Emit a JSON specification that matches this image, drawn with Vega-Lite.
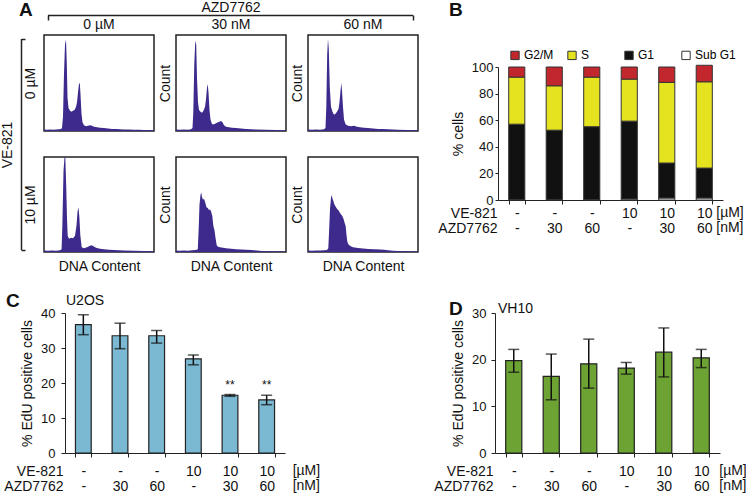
{
"$schema":"https://vega.github.io/schema/vega-lite/v6.json",
"background":"white",
"padding":0,
"config":{
  "font":"Liberation Sans",
  "view":{"stroke":null},
  "axis":{"grid":false,"domainColor":"#222","tickColor":"#222","labelColor":"#111","titleColor":"#111","titleFontWeight":"normal","labelOverlap":false},
  "title":{"color":"#111","frame":"group"},
  "text":{"color":"#111"}
},
"datasets":{
"h11":[{"x":0,"y":1.5},{"x":3,"y":1.2},{"x":6,"y":1.6},{"x":9,"y":1.3},{"x":12,"y":1.5},{"x":15,"y":1.8},{"x":17,"y":2},{"x":18,"y":3},{"x":19,"y":15},{"x":20,"y":60},{"x":21,"y":90},{"x":22,"y":95},{"x":22.8,"y":70},{"x":23.5,"y":35},{"x":24.5,"y":24},{"x":26,"y":21},{"x":27.5,"y":20},{"x":29,"y":21},{"x":30.5,"y":22},{"x":32,"y":25},{"x":33,"y":30},{"x":34,"y":40},{"x":35,"y":49},{"x":35.8,"y":50},{"x":36.5,"y":38},{"x":37.5,"y":18},{"x":38.5,"y":9},{"x":40,"y":6},{"x":42,"y":5},{"x":44,"y":5.5},{"x":46,"y":6},{"x":48,"y":5.5},{"x":50,"y":4.5},{"x":53,"y":4},{"x":56,"y":3.5},{"x":60,"y":3},{"x":64,"y":2.5},{"x":68,"y":2.2},{"x":72,"y":2},{"x":76,"y":1.8},{"x":80,"y":1.6},{"x":85,"y":1.5},{"x":90,"y":1.3},{"x":95,"y":1.2},{"x":100,"y":1},{"x":105,"y":1},{"x":110,"y":0.8}],
"h12":[{"x":0,"y":1.5},{"x":4,"y":1.2},{"x":8,"y":1.5},{"x":12,"y":1.3},{"x":15,"y":1.8},{"x":16.5,"y":3},{"x":17.3,"y":20},{"x":18.3,"y":70},{"x":19.3,"y":94},{"x":20.2,"y":90},{"x":21,"y":55},{"x":22,"y":30},{"x":23,"y":22},{"x":24.5,"y":20},{"x":26,"y":19},{"x":27.5,"y":21},{"x":29,"y":25},{"x":30,"y":33},{"x":31,"y":45},{"x":31.7,"y":49},{"x":32.5,"y":40},{"x":33.5,"y":22},{"x":34.5,"y":12},{"x":36,"y":7},{"x":38,"y":7},{"x":40,"y":8},{"x":42,"y":9},{"x":44,"y":10},{"x":45,"y":10.5},{"x":46.5,"y":9},{"x":48,"y":6},{"x":50,"y":4.5},{"x":53,"y":4},{"x":56,"y":3.5},{"x":60,"y":3},{"x":65,"y":2.5},{"x":70,"y":2},{"x":75,"y":1.8},{"x":80,"y":1.5},{"x":90,"y":1.2},{"x":100,"y":1},{"x":110,"y":0.8}],
"h13":[{"x":0,"y":1.5},{"x":4,"y":1.3},{"x":8,"y":1.5},{"x":12,"y":1.4},{"x":16,"y":1.8},{"x":17.5,"y":3},{"x":18.3,"y":25},{"x":19.2,"y":80},{"x":20,"y":96},{"x":20.8,"y":85},{"x":21.8,"y":45},{"x":23,"y":25},{"x":24.5,"y":20},{"x":26,"y":17},{"x":27.5,"y":18},{"x":29,"y":20},{"x":30.5,"y":23},{"x":31.5,"y":30},{"x":32.5,"y":42},{"x":33.3,"y":50},{"x":34,"y":42},{"x":35,"y":25},{"x":36,"y":12},{"x":37.5,"y":7},{"x":40,"y":5.5},{"x":43,"y":5},{"x":46,"y":5.5},{"x":49,"y":4.5},{"x":52,"y":4},{"x":56,"y":3.5},{"x":60,"y":3},{"x":65,"y":2.5},{"x":70,"y":2.2},{"x":75,"y":2},{"x":80,"y":1.7},{"x":90,"y":1.3},{"x":100,"y":1.1},{"x":110,"y":0.9}],
"h21":[{"x":0,"y":1.5},{"x":4,"y":1.2},{"x":8,"y":1.6},{"x":12,"y":1.3},{"x":16,"y":1.8},{"x":17.6,"y":3},{"x":18.4,"y":30},{"x":19.5,"y":85},{"x":20.5,"y":100},{"x":21.3,"y":100},{"x":22.2,"y":70},{"x":23,"y":35},{"x":23.7,"y":17},{"x":25,"y":14},{"x":27,"y":15},{"x":29,"y":14.5},{"x":31,"y":17},{"x":32.5,"y":28},{"x":33.5,"y":42},{"x":34.4,"y":47},{"x":35.3,"y":38},{"x":36.3,"y":18},{"x":37.7,"y":5},{"x":40,"y":4},{"x":43,"y":5},{"x":46,"y":6.5},{"x":47.7,"y":7},{"x":49.5,"y":6},{"x":52,"y":4.5},{"x":56,"y":3.5},{"x":60,"y":3},{"x":65,"y":2.5},{"x":70,"y":2},{"x":75,"y":1.8},{"x":80,"y":1.6},{"x":90,"y":1.3},{"x":100,"y":1.1},{"x":110,"y":0.9}],
"h22":[{"x":0,"y":1.5},{"x":4,"y":1.3},{"x":8,"y":1.6},{"x":12,"y":1.4},{"x":16,"y":1.8},{"x":20,"y":2},{"x":21.8,"y":3},{"x":22.7,"y":25},{"x":23.5,"y":50},{"x":24.5,"y":60},{"x":25.2,"y":63},{"x":26,"y":58},{"x":27,"y":55},{"x":28,"y":56},{"x":29,"y":53},{"x":30.5,"y":47},{"x":32,"y":46},{"x":33,"y":44},{"x":34,"y":45},{"x":35,"y":43},{"x":36.3,"y":38},{"x":37.4,"y":27},{"x":38.5,"y":23},{"x":39.5,"y":15},{"x":40.7,"y":7},{"x":42,"y":5.5},{"x":44,"y":5},{"x":47,"y":4.5},{"x":50,"y":4},{"x":55,"y":3.5},{"x":60,"y":3},{"x":65,"y":2.7},{"x":70,"y":2.3},{"x":76,"y":2},{"x":81,"y":1.5},{"x":86,"y":1},{"x":95,"y":0.8},{"x":110,"y":0.6}],
"h23":[{"x":0,"y":1.5},{"x":4,"y":1.3},{"x":8,"y":1.6},{"x":12,"y":1.5},{"x":16,"y":1.8},{"x":19,"y":2},{"x":20.3,"y":4},{"x":21,"y":20},{"x":22,"y":45},{"x":23,"y":57},{"x":23.7,"y":60},{"x":24.5,"y":56},{"x":25.3,"y":54},{"x":26,"y":51},{"x":27,"y":49},{"x":28,"y":47},{"x":29.3,"y":45},{"x":30.5,"y":44},{"x":32,"y":41},{"x":33.5,"y":39},{"x":34.3,"y":38},{"x":35.5,"y":35},{"x":36.5,"y":31},{"x":37.7,"y":27},{"x":38.5,"y":18},{"x":39.3,"y":11},{"x":40.5,"y":8},{"x":42.7,"y":6},{"x":45,"y":5},{"x":50,"y":4.2},{"x":55,"y":3.6},{"x":60,"y":3.2},{"x":66,"y":3},{"x":72,"y":2.6},{"x":76,"y":2.5},{"x":80,"y":1.8},{"x":85,"y":1.2},{"x":90,"y":1},{"x":100,"y":0.8},{"x":110,"y":0.6}],
"cycle":[
{"cond":"-|-","phase":"Sub G1","ord":1,"pct":0.4},{"cond":"-|-","phase":"G1","ord":2,"pct":56.6},{"cond":"-|-","phase":"S","ord":3,"pct":35.4},{"cond":"-|-","phase":"G2/M","ord":4,"pct":7.6},
{"cond":"-|30","phase":"Sub G1","ord":1,"pct":0.4},{"cond":"-|30","phase":"G1","ord":2,"pct":52.1},{"cond":"-|30","phase":"S","ord":3,"pct":33.4},{"cond":"-|30","phase":"G2/M","ord":4,"pct":14.1},
{"cond":"-|60","phase":"Sub G1","ord":1,"pct":0.4},{"cond":"-|60","phase":"G1","ord":2,"pct":54.7},{"cond":"-|60","phase":"S","ord":3,"pct":37.3},{"cond":"-|60","phase":"G2/M","ord":4,"pct":7.6},
{"cond":"10|-","phase":"Sub G1","ord":1,"pct":0.8},{"cond":"10|-","phase":"G1","ord":2,"pct":58.5},{"cond":"10|-","phase":"S","ord":3,"pct":31.6},{"cond":"10|-","phase":"G2/M","ord":4,"pct":9.1},
{"cond":"10|30","phase":"Sub G1","ord":1,"pct":1.5},{"cond":"10|30","phase":"G1","ord":2,"pct":26.3},{"cond":"10|30","phase":"S","ord":3,"pct":60.6},{"cond":"10|30","phase":"G2/M","ord":4,"pct":11.6},
{"cond":"10|60","phase":"Sub G1","ord":1,"pct":1.5},{"cond":"10|60","phase":"G1","ord":2,"pct":22.5},{"cond":"10|60","phase":"S","ord":3,"pct":64.9},{"cond":"10|60","phase":"G2/M","ord":4,"pct":12.4}
],
"u2os":[
{"cond":"-|-","v":36.7,"lo":33.8,"hi":39.5,"sig":""},
{"cond":"-|30","v":33.5,"lo":29.8,"hi":37.1,"sig":""},
{"cond":"-|60","v":33.5,"lo":31.4,"hi":35.0,"sig":""},
{"cond":"10|-","v":26.9,"lo":25.2,"hi":28.0,"sig":""},
{"cond":"10|30","v":16.5,"lo":16.2,"hi":16.7,"sig":"**"},
{"cond":"10|60","v":15.2,"lo":13.8,"hi":16.5,"sig":"**"}
],
"vh10":[
{"cond":"-|-","v":19.8,"lo":17.3,"hi":22.2},
{"cond":"-|30","v":16.4,"lo":11.4,"hi":21.2},
{"cond":"-|60","v":19.1,"lo":13.9,"hi":24.4},
{"cond":"10|-","v":18.2,"lo":16.9,"hi":19.4},
{"cond":"10|30","v":21.6,"lo":16.3,"hi":26.8},
{"cond":"10|60","v":20.4,"lo":18.3,"hi":22.2}
]
},
"bounds":"flush",
"spacing":298,
"vconcat":[
{"bounds":"flush","spacing":477,"hconcat":[
  {"bounds":"flush","spacing":19,"vconcat":[
    {"width":397,"height":1,
     "data":{"values":[{"lo":0,"hi":1}]},
     "mark":{"type":"rule","color":"#222","strokeWidth":1.5},
     "encoding":{
       "x":{"field":"lo","type":"quantitative","scale":{"domain":[0,1],"range":[27,392],"nice":false},"axis":{"orient":"top","values":[0,1],"labels":false,"domain":false,"tickSize":-5,"tickWidth":1.5,"title":"AZD7762","titleFontSize":14,"titlePadding":0}},
       "x2":{"field":"hi"}
     }},
    {"bounds":"flush","spacing":22,"hconcat":[
      {"width":1,"height":215,
       "title":{"text":"A","anchor":"start","fontSize":19,"fontWeight":"bold","offset":15,"dx":-2},
       "data":{"values":[{"lo":0,"hi":1}]},
       "mark":{"type":"rule","color":"#222","strokeWidth":1.5},
       "encoding":{
         "y":{"field":"lo","type":"quantitative","scale":{"domain":[0,1],"range":[215,4],"nice":false},"axis":{"title":"VE-821","values":[0,1],"labels":false,"domain":false,"tickSize":-4,"tickWidth":1.5,"titlePadding":6,"titleFontSize":14}},
         "y2":{"field":"hi"}
       }},
      {"bounds":"flush","spacing":122,"vconcat":[
        {"bounds":"flush","spacing":22,"hconcat":[
          {"width":110,"height":96,"view":{"stroke":"#222","strokeWidth":1.5},
           "title":{"text":"0 µM","fontSize":14,"fontWeight":"normal","offset":3},
           "data":{"name":"h11"},
           "mark":{"type":"area","color":"#3d2a8c","clip":true},
           "encoding":{
             "x":{"field":"x","type":"quantitative","scale":{"domain":[0,110],"nice":false,"zero":false},"axis":null},
             "y":{"field":"y","type":"quantitative","scale":{"domain":[0,100],"nice":false},"axis":{"title":"0 µM","labels":false,"ticks":false,"domain":false,"titleFontSize":14,"titlePadding":7}}
           }},
          {"width":110,"height":96,"view":{"stroke":"#222","strokeWidth":1.5},
           "title":{"text":"30 nM","fontSize":14,"fontWeight":"normal","offset":3},
           "data":{"name":"h12"},
           "mark":{"type":"area","color":"#3d2a8c","clip":true},
           "encoding":{
             "x":{"field":"x","type":"quantitative","scale":{"domain":[0,110],"nice":false,"zero":false},"axis":null},
             "y":{"field":"y","type":"quantitative","scale":{"domain":[0,100],"nice":false},"axis":{"title":"Count","labels":false,"ticks":false,"domain":false,"titleFontSize":14,"titlePadding":4}}
           }},
          {"width":110,"height":96,"view":{"stroke":"#222","strokeWidth":1.5},
           "title":{"text":"60 nM","fontSize":14,"fontWeight":"normal","offset":3},
           "data":{"name":"h13"},
           "mark":{"type":"area","color":"#3d2a8c","clip":true},
           "encoding":{
             "x":{"field":"x","type":"quantitative","scale":{"domain":[0,110],"nice":false,"zero":false},"axis":null},
             "y":{"field":"y","type":"quantitative","scale":{"domain":[0,100],"nice":false},"axis":{"title":"Count","labels":false,"ticks":false,"domain":false,"titleFontSize":14,"titlePadding":4}}
           }}
        ]},
        {"bounds":"flush","spacing":22,"hconcat":[
          {"width":110,"height":95,"view":{"stroke":"#222","strokeWidth":1.5},
           "data":{"name":"h21"},
           "mark":{"type":"area","color":"#3d2a8c","clip":true},
           "encoding":{
             "x":{"field":"x","type":"quantitative","scale":{"domain":[0,110],"nice":false,"zero":false},"axis":{"title":"DNA Content","labels":false,"ticks":false,"domain":false,"titleFontSize":14,"titlePadding":7}},
             "y":{"field":"y","type":"quantitative","scale":{"domain":[0,100],"nice":false},"axis":{"title":"10 µM","labels":false,"ticks":false,"domain":false,"titleFontSize":14,"titlePadding":7}}
           }},
          {"width":110,"height":95,"view":{"stroke":"#222","strokeWidth":1.5},
           "data":{"name":"h22"},
           "mark":{"type":"area","color":"#3d2a8c","clip":true},
           "encoding":{
             "x":{"field":"x","type":"quantitative","scale":{"domain":[0,110],"nice":false,"zero":false},"axis":{"title":"DNA Content","labels":false,"ticks":false,"domain":false,"titleFontSize":14,"titlePadding":7}},
             "y":{"field":"y","type":"quantitative","scale":{"domain":[0,100],"nice":false},"axis":{"title":"Count","labels":false,"ticks":false,"domain":false,"titleFontSize":14,"titlePadding":4}}
           }},
          {"width":110,"height":95,"view":{"stroke":"#222","strokeWidth":1.5},
           "data":{"name":"h23"},
           "mark":{"type":"area","color":"#3d2a8c","clip":true},
           "encoding":{
             "x":{"field":"x","type":"quantitative","scale":{"domain":[0,110],"nice":false,"zero":false},"axis":{"title":"DNA Content","labels":false,"ticks":false,"domain":false,"titleFontSize":14,"titlePadding":7}},
             "y":{"field":"y","type":"quantitative","scale":{"domain":[0,100],"nice":false},"axis":{"title":"Count","labels":false,"ticks":false,"domain":false,"titleFontSize":14,"titlePadding":4}}
           }}
        ]}
      ]}
    ]}
  ]},
  {"title":{"text":"B","anchor":"start","fontSize":19,"fontWeight":"bold","offset":-5,"dx":-49},
   "bounds":"flush",
   "vconcat":[
    {"width":225,"height":185,
     "layer":[
      {"data":{"name":"cycle"},
       "mark":{"type":"bar","stroke":"#333","strokeWidth":1},
       "encoding":{
         "x":{"field":"cond","type":"nominal","scale":{"domain":["-|-","-|30","-|60","10|-","10|30","10|60"],"paddingInner":0.57,"paddingOuter":0.285},"axis":{"title":["VE-821","AZD7762"],"titleFontSize":14,"titleAlign":"right","titleAngle":0,"titleX":-1,"titleY":6,"titleBaseline":"top","titleLineHeight":15,"labelExpr":"indexof(datum.label,'|') >= 0 ? split(datum.label,'|') : ''","labelFontSize":14,"labelLineHeight":15,"labelAngle":0,"labelPadding":2,"labelBaseline":"top","tickBand":"extent","tickSize":4}},
         "y":{"field":"pct","type":"quantitative","stack":"zero","scale":{"domain":[0,100],"range":[185,52],"nice":false},"axis":{"title":"% cells","values":[0,20,40,60,80,100],"tickCount":10,"labelOverlap":false,"titleFontSize":14,"titlePadding":6,"labelFontSize":13,"tickSize":3,"labelPadding":2}},
         "color":{"field":"phase","type":"nominal","scale":{"domain":["G2/M","S","G1","Sub G1"],"range":["#c1272d","#e5e21f","#111111","#ffffff"]},"legend":{"orient":"none","legendX":488,"legendY":34,"direction":"horizontal","columns":4,"gridAlign":"all","title":null,"symbolType":"square","symbolSize":70,"symbolStrokeColor":"#333","symbolStrokeWidth":1,"labelFontSize":12,"labelOffset":3,"columnPadding":0,"padding":0}},
         "order":{"field":"ord","type":"quantitative"}
       }},
      {"data":{"values":[{"cond":"10|60","u":"[µM]|[nM]"}]},
       "mark":{"type":"text","align":"left","baseline":"top","dx":12,"dy":6,"fontSize":14,"lineBreak":"|","lineHeight":15},
       "encoding":{"x":{"field":"cond","type":"nominal"},"y":{"datum":0},"text":{"field":"u"}}}
     ]}
   ]}
]},
{"bounds":"flush","spacing":474,"hconcat":[
  {"title":{"text":"C","anchor":"start","fontSize":19,"fontWeight":"bold","offset":-17,"dx":-15},
   "bounds":"flush",
   "vconcat":[
    {"width":264,"height":140,
     "title":{"text":"U2OS","anchor":"start","fontSize":14,"fontWeight":"normal","offset":-9,"dx":45},
     "data":{"name":"u2os"},
     "encoding":{"x":{"field":"cond","type":"nominal","scale":{"domain":["-|-","-|30","-|60","10|-","10|30","10|60"],"range":[44,264],"paddingInner":0.57,"paddingOuter":0.285},"axis":{"title":["VE-821","AZD7762"],"titleFontSize":14,"titleAlign":"right","titleAngle":0,"titleX":42,"titleY":11,"titleBaseline":"top","titleLineHeight":15,"labelExpr":"indexof(datum.label,'|') >= 0 ? split(datum.label,'|') : ''","labelFontSize":14,"labelLineHeight":15,"labelAngle":0,"labelPadding":7,"labelBaseline":"top","tickBand":"extent","tickSize":4}}},
     "layer":[
      {"mark":{"type":"bar","color":"#7bb8d2","stroke":"#222","strokeWidth":1.2},
       "encoding":{"y":{"field":"v","type":"quantitative","scale":{"domain":[0,40],"nice":false},"axis":{"title":"% EdU positive cells","offset":-44,"values":[0,10,20,30,40],"tickCount":10,"labelOverlap":false,"titleFontSize":14,"titlePadding":6,"labelFontSize":13,"tickSize":4,"labelPadding":6}}}},
      {"mark":{"type":"rule","color":"#111","strokeWidth":1.5},
       "encoding":{"y":{"field":"lo","type":"quantitative","title":"% EdU positive cells"},"y2":{"field":"hi"}}},
      {"mark":{"type":"tick","color":"#111","thickness":1.5,"size":11},
       "encoding":{"y":{"field":"lo","type":"quantitative","title":"% EdU positive cells"}}},
      {"mark":{"type":"tick","color":"#111","thickness":1.5,"size":11},
       "encoding":{"y":{"field":"hi","type":"quantitative","title":"% EdU positive cells"}}},
      {"mark":{"type":"text","baseline":"bottom","dy":-3,"fontSize":12},
       "encoding":{"y":{"field":"hi","type":"quantitative","title":"% EdU positive cells"},"text":{"field":"sig"}}},
      {"data":{"values":[{"cond":"10|60","u":"[µM]|[nM]"}]},
       "mark":{"type":"text","align":"left","baseline":"top","dx":26,"dy":11,"fontSize":14,"lineBreak":"|","lineHeight":15},
       "encoding":{"y":{"datum":0},"text":{"field":"u"}}}
     ]}
   ]},
  {"title":{"text":"D","anchor":"start","fontSize":19,"fontWeight":"bold","offset":-17,"dx":-46},
   "bounds":"flush",
   "vconcat":[
    {"width":225,"height":140,
     "title":{"text":"VH10","anchor":"start","fontSize":14,"fontWeight":"normal","offset":-9,"dx":3},
     "data":{"name":"vh10"},
     "encoding":{"x":{"field":"cond","type":"nominal","scale":{"domain":["-|-","-|30","-|60","10|-","10|30","10|60"],"paddingInner":0.57,"paddingOuter":0.285},"axis":{"title":["VE-821","AZD7762"],"titleFontSize":14,"titleAlign":"right","titleAngle":0,"titleX":-2,"titleY":11,"titleBaseline":"top","titleLineHeight":15,"labelExpr":"indexof(datum.label,'|') >= 0 ? split(datum.label,'|') : ''","labelFontSize":14,"labelLineHeight":15,"labelAngle":0,"labelPadding":7,"labelBaseline":"top","tickBand":"extent","tickSize":4}}},
     "layer":[
      {"mark":{"type":"bar","color":"#6ca333","stroke":"#222","strokeWidth":1.2},
       "encoding":{"y":{"field":"v","type":"quantitative","scale":{"domain":[0,30],"nice":false},"axis":{"title":"% EdU positive cells","values":[0,10,20,30],"tickCount":10,"labelOverlap":false,"titleFontSize":14,"titlePadding":6,"labelFontSize":13,"tickSize":4,"labelPadding":5}}}},
      {"mark":{"type":"rule","color":"#111","strokeWidth":1.5},
       "encoding":{"y":{"field":"lo","type":"quantitative","title":"% EdU positive cells"},"y2":{"field":"hi"}}},
      {"mark":{"type":"tick","color":"#111","thickness":1.5,"size":11},
       "encoding":{"y":{"field":"lo","type":"quantitative","title":"% EdU positive cells"}}},
      {"mark":{"type":"tick","color":"#111","thickness":1.5,"size":11},
       "encoding":{"y":{"field":"hi","type":"quantitative","title":"% EdU positive cells"}}},
      {"data":{"values":[{"cond":"10|60","u":"[µM]|[nM]"}]},
       "mark":{"type":"text","align":"left","baseline":"top","dx":18,"dy":11,"fontSize":14,"lineBreak":"|","lineHeight":15},
       "encoding":{"y":{"datum":0},"text":{"field":"u"}}}
     ]}
   ]}
]}
]
}
